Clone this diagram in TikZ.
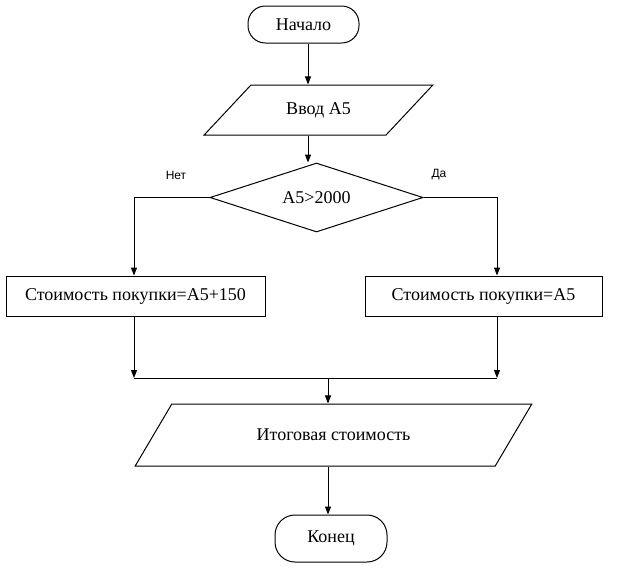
\documentclass[tikz,border=0pt]{standalone}
\usepackage{fontspec}
\setmainfont{Liberation Serif}
\newfontfamily\lblfont{Liberation Sans}
\usetikzlibrary{shapes.geometric,arrows.meta}
\newcommand{\txt}{\fontsize{13.5}{16}\selectfont}
\tikzset{
  term/.style={draw,rectangle,rounded corners=13pt,inner sep=0pt,font=\txt},
  io/.style={draw,trapezium,trapezium left angle=34.5,trapezium right angle=145.5,trapezium stretches=true,inner sep=0pt,font=\txt},
  proc/.style={draw,rectangle,inner sep=0pt,minimum height=30pt,font=\txt},
  cond/.style={draw,diamond,aspect=3,inner sep=0pt,font=\txt},
  arr/.style={-{Triangle[length=6pt,width=4.5pt]}},
  lbl/.style={font=\lblfont\fontsize{9}{10}\selectfont}
}

\begin{document}
\begin{tikzpicture}[x=0.75pt,y=-0.75pt,line width=0.75pt]
\useasboundingbox (0,0) rectangle (617,578);

\node[term,minimum width=83.25pt,minimum height=27.75pt] (start) at (303.5,24.5) {Начало};
\node[io,minimum width=171.75pt,minimum height=37.5pt] (in) at (318.5,110) {Ввод А5};
\node[cond,minimum width=159.75pt,minimum height=51.75pt] (dec) at (316.5,197.5) {А5>2000};
\node[proc,minimum width=194.25pt] (lbox) at (135.5,296) {Стоимость покупки=А5+150};
\node[proc,minimum width=177.75pt] (rbox) at (483.5,296) {Стоимость покупки=А5};
\node[io,minimum width=297.75pt,minimum height=46.5pt] (res) at (333.5,435) {Итоговая стоимость};
\node[term,minimum width=84pt,minimum height=35.25pt,rounded corners=15pt] (fin) at (331,538.5) {Конец};

\node[lbl] (no) at (176,175) {Нет};
\node[lbl] (yes) at (439,175) {Да};

\coordinate (ax) at (308,0);
\coordinate (lx) at (134,0);
\coordinate (rx) at (497,0);
\coordinate (jx) at (328,0);
\coordinate (jy) at (0,378);

\draw[arr] (ax |- start.south) -- (ax |- in.north);
\draw[arr] (ax |- in.south) -- (ax |- dec.north);
\draw[arr] (dec.west) -| (lx |- lbox.north);
\draw[arr] (dec.east) -| (rx |- rbox.north);
\draw[arr] (lx |- lbox.south) -- (lx |- jy);
\draw[arr] (rx |- rbox.south) -- (rx |- jy);
\draw (lx |- jy) -- (rx |- jy);
\draw[arr] (jx |- jy) -- (jx |- res.north);
\draw[arr] (jx |- res.south) -- (jx |- fin.north);

\end{tikzpicture}
\end{document}
